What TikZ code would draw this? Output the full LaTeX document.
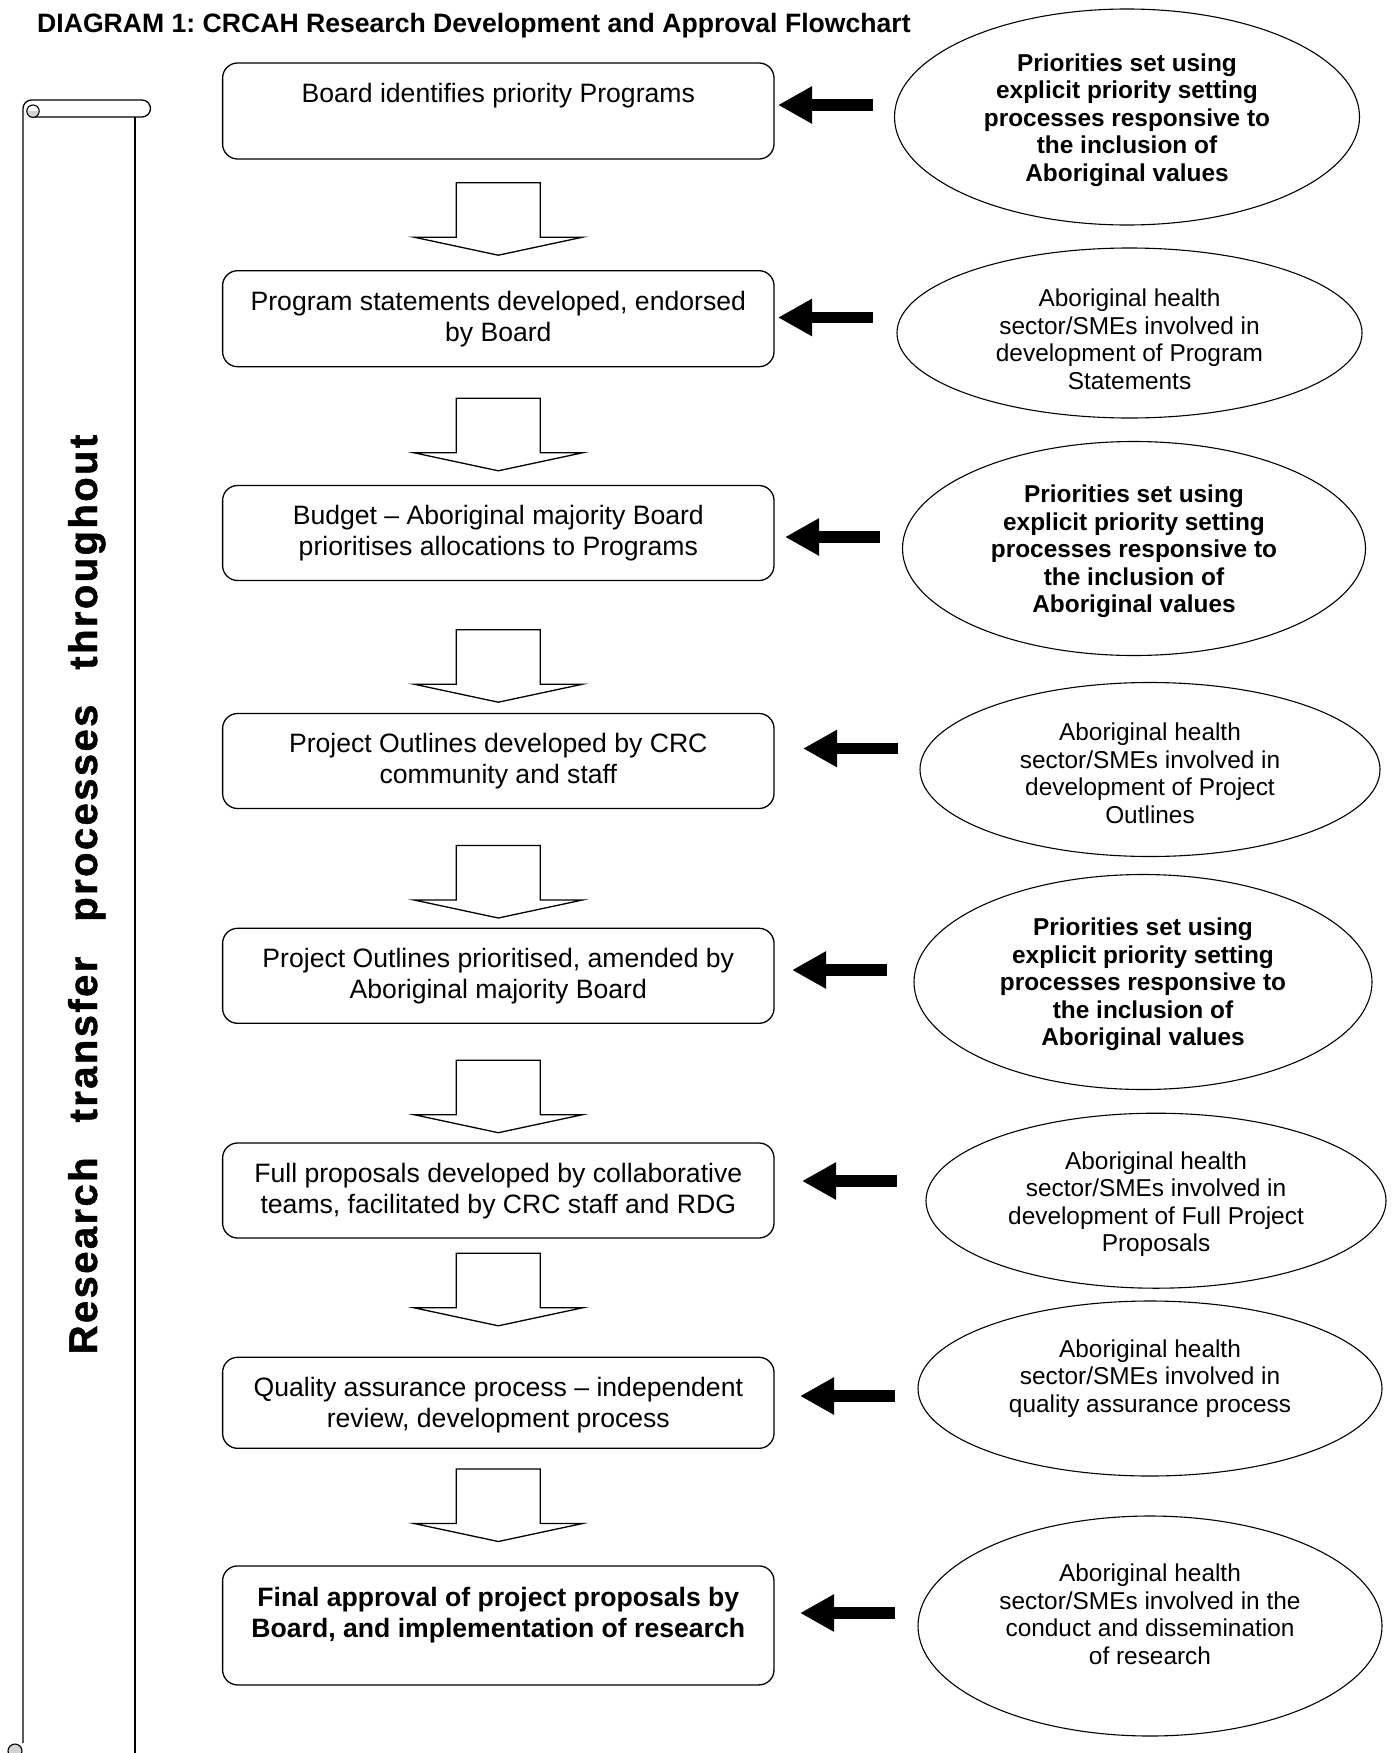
\documentclass[tikz,border=0pt]{standalone}
\usepackage{fontspec}
\setmainfont{Liberation Sans}
\newfontface\vertfont[LetterSpace=6,FakeBold=1.2]{Liberation Sans Bold}
\usetikzlibrary{shapes.geometric,arrows.meta,calc}
\frenchspacing
\begin{document}
\frenchspacing
\begin{tikzpicture}[x=1pt,y=1pt,
  box/.style={draw, line width=1.3pt, rounded corners=15pt, minimum width=551.4pt, inner sep=0pt},
  boxtext/.style={align=center, inner sep=0pt, font=\fontsize{26.6}{30.8}\selectfont},
  boxbold/.style={boxtext, font=\fontsize{26.6}{31.3}\selectfont\bfseries},
  ell/.style={draw, ellipse, line width=1.1pt, inner sep=0pt},
  elltext/.style={align=center, inner sep=0pt, font=\fontsize{24.4}{27.5}\selectfont},
  ellbold/.style={elltext, font=\fontsize{24.4}{27.5}\selectfont\bfseries},
  fatarrow/.style={line width=11.2pt, -{Triangle[length=34pt,width=35pt]}},
  blockdown/.pic={\draw[line width=1.3pt, line join=miter, fill=white]
     (-42,0) -- (42,0) -- (42,-54.5) -- (84.2,-54.5) -- (0,-72.5) -- (-84.2,-54.5) -- (-42,-54.5) -- cycle;},
  scrollline/.style={line width=1.3pt}
]
\fill[white] (0,0) rectangle (1398,-1753);
\useasboundingbox (0,0) rectangle (1398,-1753);

% title
\node[anchor=base west, inner sep=0pt, font=\bfseries\fontsize{26.6}{30}\selectfont] (title) at (37,-33)
  {DIAGRAM 1: CRCAH Research Development and Approval Flowchart};

% scroll
\draw[scrollline] (23,-1743) -- (23,-108.5) arc (180:90:8.5) -- (142,-100) arc (90:-90:8.5) -- (31.5,-117);
\fill[gray!35] (26.8,-111.2) arc (180:360:6.2) -- cycle;
\draw[line width=1.1pt] (33,-111.2) circle (6.2);
\draw[scrollline] (135,-117) -- (135,-1760);
\filldraw[fill=gray!35, line width=1.1pt] (15,-1751) circle (7);
\node[rotate=90, anchor=base west, inner sep=0pt, font=\vertfont\fontsize{40}{48}\selectfont] (vt) at (97,-1354.5)
  {Research\hspace{35pt}transfer\hspace{35pt}processes\hspace{35pt}throughout};

% boxes
\node[box, minimum height=96pt]  (b1) at (498.3,-111) {};
\node[box, minimum height=96pt]  (b2) at (498.3,-318.7) {};
\node[box, minimum height=95pt]  (b3) at (498.3,-533) {};
\node[box, minimum height=95pt]  (b4) at (498.3,-761) {};
\node[box, minimum height=95pt]  (b5) at (498.3,-975.8) {};
\node[box, minimum height=95pt]  (b6) at (498.3,-1190.5) {};
\node[box, minimum height=91pt]  (b7) at (498.3,-1402.8) {};
\node[box, minimum height=119pt] (b8) at (498.3,-1625.4) {};

\node[boxtext] (t1) at (498.3,-96) {Board identifies priority Programs};
\node[boxtext] (t2) at (498.3,-319) {Program statements developed, endorsed\\by Board};
\node[boxtext] (t3) at (498.3,-533) {Budget -- Aboriginal majority Board\\prioritises allocations to Programs};
\node[boxtext] (t4) at (498.3,-761) {Project Outlines developed by CRC\\community and staff};
\node[boxtext] (t5) at (498.3,-976) {Project Outlines prioritised, amended by\\Aboriginal majority Board};
\node[boxtext] (t6) at (498.3,-1191) {Full proposals developed by collaborative\\teams, facilitated by CRC staff and RDG};
\node[boxtext] (t7) at (498.3,-1405) {Quality assurance process -- independent\\review, development process};
\node[boxbold] (t8) at (498.3,-1615) {Final approval of project proposals by\\Board, and implementation of research};

% block arrows
\coordinate (a1) at (498.3,-182.7);
\coordinate (a2) at (498.3,-398.3);
\coordinate (a3) at (498.3,-629.7);
\coordinate (a4) at (498.3,-845.5);
\coordinate (a5) at (498.3,-1060.2);
\coordinate (a6) at (498.3,-1253.3);
\coordinate (a7) at (498.3,-1469);
\foreach \i in {1,...,7} {\pic at (a\i) {blockdown};}

% ellipses
\node[ell, minimum width=465pt, minimum height=216pt] (e1) at (1127,-117) {};
\node[ell, minimum width=465pt, minimum height=170pt] (e2) at (1129.5,-333) {};
\node[ell, minimum width=463pt, minimum height=214pt] (e3) at (1134,-548.5) {};
\node[ell, minimum width=460pt, minimum height=174pt] (e4) at (1150,-769.5) {};
\node[ell, minimum width=458pt, minimum height=215pt] (e5) at (1143,-982) {};
\node[ell, minimum width=460pt, minimum height=175pt] (e6) at (1156,-1200.7) {};
\node[ell, minimum width=464pt, minimum height=175pt] (e7) at (1150,-1388.5) {};
\node[ell, minimum width=464pt, minimum height=220pt] (e8) at (1150,-1626) {};

\node[ellbold] (et1) at (1127,-120) {Priorities set using\\explicit priority setting\\processes responsive to\\the inclusion of\\Aboriginal values};
\node[elltext] (et2) at (1129.5,-339.5) {Aboriginal health\\sector/SMEs involved in\\development of Program\\Statements};
\node[ellbold] (et3) at (1134,-551.5) {Priorities set using\\explicit priority setting\\processes responsive to\\the inclusion of\\Aboriginal values};
\node[elltext] (et4) at (1150,-773.5) {Aboriginal health\\sector/SMEs involved in\\development of Project\\Outlines};
\node[ellbold] (et5) at (1143,-984.5) {Priorities set using\\explicit priority setting\\processes responsive to\\the inclusion of\\Aboriginal values};
\node[elltext] (et6) at (1156,-1204) {Aboriginal health\\sector/SMEs involved in\\development of Full Project\\Proposals};
\node[elltext] (et7) at (1150,-1378.5) {Aboriginal health\\sector/SMEs involved in\\quality assurance process};
\node[elltext] (et8) at (1150,-1614.5) {Aboriginal health\\sector/SMEs involved in the\\conduct and dissemination\\of research};

% fat arrows (tail -> tip)
\coordinate (h1) at (778,-105);    \coordinate (s1) at (873,-105);
\coordinate (h2) at (778,-317.5);  \coordinate (s2) at (873,-317.5);
\coordinate (h3) at (785,-537);    \coordinate (s3) at (880,-537);
\coordinate (h4) at (803,-748.5);  \coordinate (s4) at (898,-748.5);
\coordinate (h5) at (792,-970);    \coordinate (s5) at (887,-970);
\coordinate (h6) at (802,-1181);   \coordinate (s6) at (897,-1181);
\coordinate (h7) at (800,-1396);   \coordinate (s7) at (895,-1396);
\coordinate (h8) at (800,-1613);   \coordinate (s8) at (895,-1613);
\foreach \i in {1,...,8} {\draw[fatarrow] (s\i) -- (h\i);}
\end{tikzpicture}
\end{document}
